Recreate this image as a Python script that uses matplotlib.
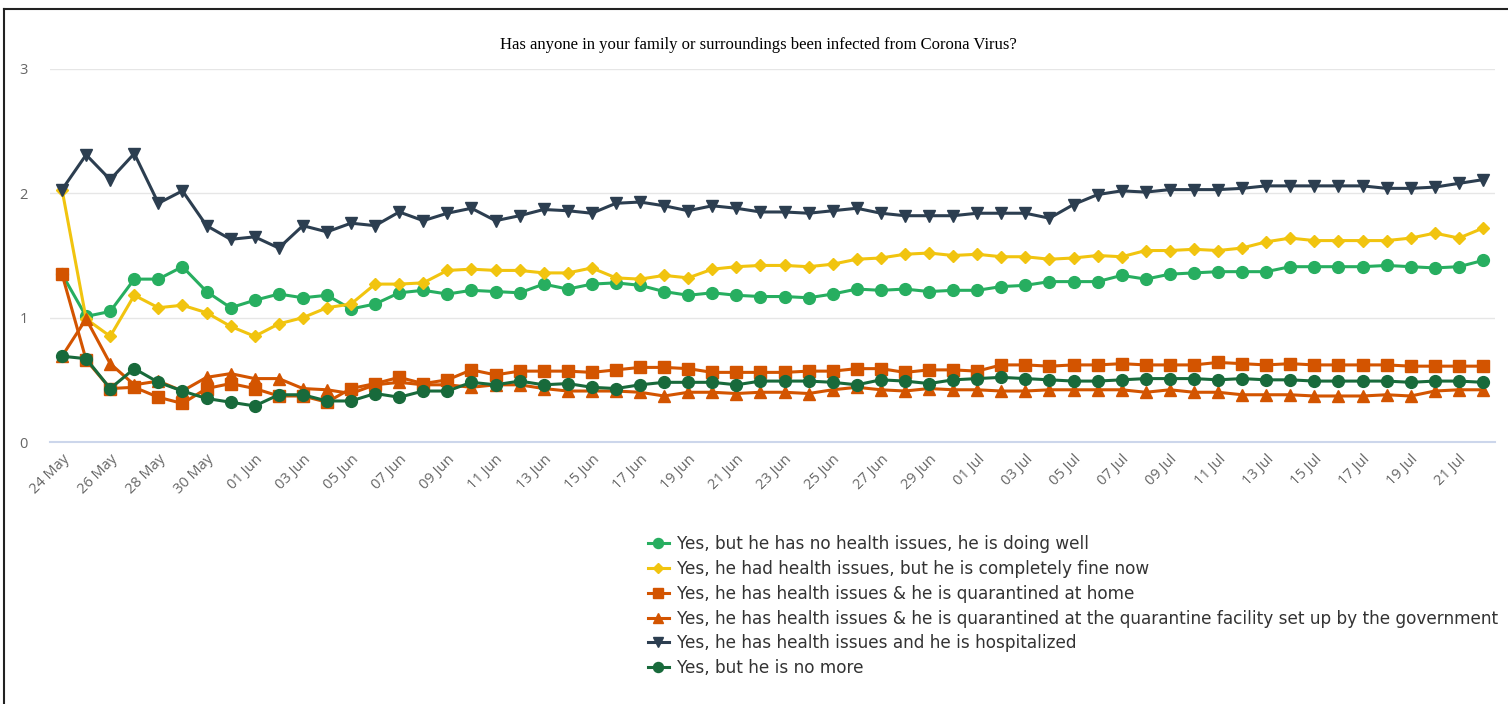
import matplotlib
matplotlib.use("Agg")
import matplotlib.pyplot as plt
import pandas as pd
from matplotlib.lines import Line2D

TITLE = "Has anyone in your family or surroundings been infected from Corona Virus?"

dates = pd.date_range("2020-05-24", "2020-07-22", freq="D")

tick_labels = [
    "24 May", "26 May", "28 May", "30 May", "01 Jun", "03 Jun", "05 Jun", "07 Jun",
    "09 Jun", "11 Jun", "13 Jun", "15 Jun", "17 Jun", "19 Jun", "21 Jun", "23 Jun",
    "25 Jun", "27 Jun", "29 Jun", "01 Jul", "03 Jul", "05 Jul", "07 Jul", "09 Jul",
    "11 Jul", "13 Jul", "15 Jul", "17 Jul", "19 Jul", "21 Jul",
]

labels = [
    "Yes, but he has no health issues, he is doing well",
    "Yes, he had health issues, but he is completely fine now",
    "Yes, he has health issues & he is quarantined at home",
    "Yes, he has health issues & he is quarantined at the quarantine facility set up by the government",
    "Yes, he has health issues and he is hospitalized",
    "Yes, but he is no more",
]

doing_well = [
    1.35, 1.01, 1.05, 1.31, 1.31, 1.41, 1.21, 1.08,
    1.14, 1.19, 1.16, 1.18, 1.07, 1.11, 1.20, 1.22, 1.19, 1.22,
    1.21, 1.20, 1.27, 1.23, 1.27, 1.28, 1.26, 1.21, 1.18, 1.20,
    1.18, 1.17, 1.17, 1.16, 1.19, 1.23, 1.22, 1.23, 1.21, 1.22,
    1.22, 1.25, 1.26, 1.29, 1.29, 1.29, 1.34, 1.31, 1.35, 1.36,
    1.37, 1.37, 1.37, 1.41, 1.41, 1.41, 1.41, 1.42, 1.41, 1.40,
    1.41, 1.46,
]
fine_now = [
    2.03, 0.99, 0.85, 1.18, 1.08, 1.10, 1.04, 0.93,
    0.85, 0.95, 1.00, 1.08, 1.11, 1.27, 1.27, 1.28, 1.38, 1.39,
    1.38, 1.38, 1.36, 1.36, 1.40, 1.32, 1.31, 1.34, 1.32, 1.39,
    1.41, 1.42, 1.42, 1.41, 1.43, 1.47, 1.48, 1.51, 1.52, 1.50,
    1.51, 1.49, 1.49, 1.47, 1.48, 1.50, 1.49, 1.54, 1.54, 1.55,
    1.54, 1.56, 1.61, 1.64, 1.62, 1.62, 1.62, 1.62, 1.64, 1.68,
    1.64, 1.72,
]
quarantined_home = [
    1.35, 0.66, 0.43, 0.44, 0.36, 0.31, 0.43, 0.47,
    0.43, 0.37, 0.37, 0.32, 0.43, 0.47, 0.52, 0.47, 0.50, 0.58,
    0.54, 0.57, 0.57, 0.57, 0.56, 0.58, 0.60, 0.60, 0.59, 0.56,
    0.56, 0.56, 0.56, 0.57, 0.57, 0.59, 0.59, 0.56, 0.58, 0.58,
    0.57, 0.62, 0.62, 0.61, 0.62, 0.62, 0.63, 0.62, 0.62, 0.62,
    0.64, 0.63, 0.62, 0.63, 0.62, 0.62, 0.62, 0.62, 0.61, 0.61,
    0.61, 0.61,
]
quarantined_facility = [
    0.69, 0.99, 0.63, 0.46, 0.49, 0.41, 0.52, 0.55,
    0.51, 0.51, 0.43, 0.42, 0.39, 0.46, 0.48, 0.46, 0.46, 0.44,
    0.46, 0.46, 0.43, 0.41, 0.41, 0.41, 0.40, 0.37, 0.40, 0.40,
    0.39, 0.40, 0.40, 0.39, 0.42, 0.44, 0.42, 0.41, 0.43, 0.42,
    0.42, 0.41, 0.41, 0.42, 0.42, 0.42, 0.42, 0.40, 0.42, 0.40,
    0.40, 0.38, 0.38, 0.38, 0.37, 0.37, 0.37, 0.38, 0.37, 0.41,
    0.42, 0.42,
]
hospitalized = [
    2.03, 2.31, 2.11, 2.32, 1.92, 2.02, 1.74, 1.63,
    1.65, 1.56, 1.74, 1.69, 1.76, 1.74, 1.85, 1.78, 1.84, 1.88,
    1.78, 1.82, 1.87, 1.86, 1.84, 1.92, 1.93, 1.90, 1.86, 1.90,
    1.88, 1.85, 1.85, 1.84, 1.86, 1.88, 1.84, 1.82, 1.82, 1.82,
    1.84, 1.84, 1.84, 1.80, 1.91, 1.99, 2.02, 2.01, 2.03, 2.03,
    2.03, 2.04, 2.06, 2.06, 2.06, 2.06, 2.06, 2.04, 2.04, 2.05,
    2.08, 2.11,
]
no_more = [
    0.69, 0.67, 0.43, 0.59, 0.48, 0.41, 0.35, 0.32,
    0.29, 0.38, 0.38, 0.33, 0.33, 0.39, 0.36, 0.41, 0.41, 0.48,
    0.46, 0.49, 0.46, 0.47, 0.44, 0.43, 0.46, 0.48, 0.48, 0.48,
    0.46, 0.49, 0.49, 0.49, 0.48, 0.46, 0.50, 0.49, 0.47, 0.50,
    0.51, 0.52, 0.51, 0.50, 0.49, 0.49, 0.50, 0.51, 0.51, 0.51,
    0.50, 0.51, 0.50, 0.50, 0.49, 0.49, 0.49, 0.49, 0.48, 0.49,
    0.49, 0.48,
]

series = [doing_well, fine_now, quarantined_home, quarantined_facility, hospitalized, no_more]
colors = ["#27ae60", "#f1c40f", "#d35400", "#d35400", "#2c3e50", "#186a3b"]
markers = ["o", "D", "s", "^", "v", "o"]
sizes = [8.5, 6.5, 8.5, 8.5, 8.5, 8.5]

fig = plt.figure(figsize=(15.08, 7.04), dpi=100)
ax = fig.add_axes([50 / 1508, 1 - 442 / 704, 1445 / 1508, 373 / 704])

for vals, lab, c, m, s in zip(series, labels, colors, markers, sizes):
    ax.plot(dates, vals, color=c, marker=m, markersize=s, linewidth=2.2, label=lab)

ax.set_ylim(0, 3)
ax.set_xlim(dates[0] - pd.Timedelta(hours=12), dates[-1] + pd.Timedelta(hours=12))
ax.set_yticks([0, 1, 2, 3])
ax.set_xticks(dates[::2])
ax.set_xticklabels(tick_labels, rotation=45, ha="right", rotation_mode="anchor")
ax.tick_params(axis="both", length=0, colors="#666666", labelsize=10.5)
ax.tick_params(axis="y", pad=16)
ax.tick_params(axis="x", pad=7)
for lbl in ax.get_xticklabels() + ax.get_yticklabels():
    lbl.set_family("Open Sans")
ax.grid(axis="y", color="#e6e6e6", linewidth=1)
ax.set_axisbelow(True)
for side in ["top", "right", "left"]:
    ax.spines[side].set_visible(False)
ax.spines["bottom"].set_color("#ccd6eb")
ax.spines["bottom"].set_linewidth(1.5)

fig.text(0.503, 1 - 45 / 704, TITLE, ha="center", va="center",
         family="Liberation Serif", fontsize=12, color="#000000")

fig.legend(loc="upper left", bbox_to_anchor=(633 / 1508, 1 - 520 / 704),
           frameon=False, handlelength=1.2, handletextpad=0.5,
           labelspacing=0.4, prop={"family": "DejaVu Sans", "size": 12.2},
           labelcolor="#333333", markerscale=0.85)

# container border (left and top)
fig.add_artist(Line2D([4 / 1508, 4 / 1508], [0, 1 - 9 / 704], color="#222222", linewidth=1.5))
fig.add_artist(Line2D([4 / 1508, 1], [1 - 9 / 704, 1 - 9 / 704], color="#222222", linewidth=1.5))

fig.savefig("out.png", dpi=100)
